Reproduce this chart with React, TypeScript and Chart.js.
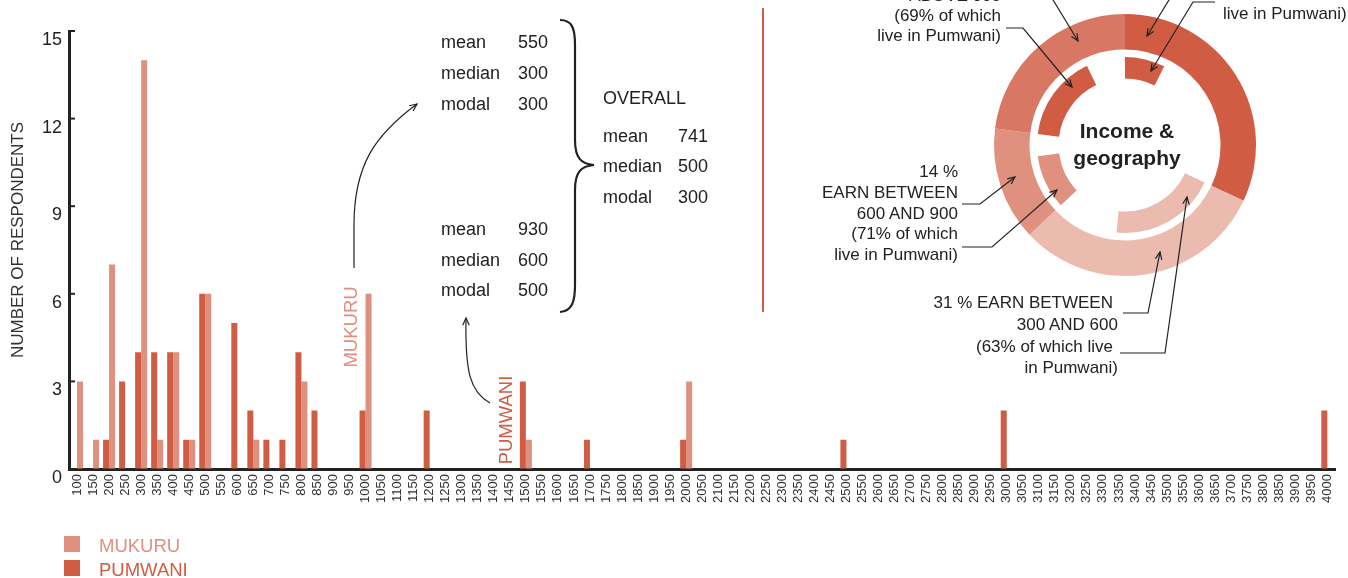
import React, { useEffect, useRef } from "react";
import { Chart, registerables } from "chart.js";

Chart.register(...registerables);

const FONT = '"Liberation Sans", Arial, Helvetica, sans-serif';
const PUM_COLOR = "#d05c44";
const MUK_COLOR = "#e0907f";

// Monthly income categories (x axis)
const incomeLabels = [
  "100", "150", "200", "250", "300", "350", "400", "450", "500", "550",
  "600", "650", "700", "750", "800", "850", "900", "950", "1000", "1050",
  "1100", "1150", "1200", "1250", "1300", "1350", "1400", "1450", "1500", "1550",
  "1600", "1650", "1700", "1750", "1800", "1850", "1900", "1950", "2000", "2050",
  "2100", "2150", "2200", "2250", "2300", "2350", "2400", "2450", "2500", "2550",
  "2600", "2650", "2700", "2750", "2800", "2850", "2900", "2950", "3000", "3050",
  "3100", "3150", "3200", "3250", "3300", "3350", "3400", "3450", "3500", "3550",
  "3600", "3650", "3700", "3750", "3800", "3850", "3900", "3950", "4000",
];

const pumwani = [
  0, 0, 1, 3, 4, 4, 4, 1, 6, 0,
  5, 2, 1, 1, 4, 2, 0, 0, 2, 0,
  0, 0, 2, 0, 0, 0, 0, 0, 3, 0,
  0, 0, 1, 0, 0, 0, 0, 0, 1, 0,
  0, 0, 0, 0, 0, 0, 0, 0, 1, 0,
  0, 0, 0, 0, 0, 0, 0, 0, 2, 0,
  0, 0, 0, 0, 0, 0, 0, 0, 0, 0,
  0, 0, 0, 0, 0, 0, 0, 0, 2,
];

const mukuru = [
  3, 1, 7, 0, 14, 1, 4, 1, 6, 0,
  0, 1, 0, 0, 3, 0, 0, 0, 6, 0,
  0, 0, 0, 0, 0, 0, 0, 0, 1, 0,
  0, 0, 0, 0, 0, 0, 0, 0, 3, 0,
  0, 0, 0, 0, 0, 0, 0, 0, 0, 0,
  0, 0, 0, 0, 0, 0, 0, 0, 0, 0,
  0, 0, 0, 0, 0, 0, 0, 0, 0, 0,
  0, 0, 0, 0, 0, 0, 0, 0, 0,
];

const yTickValues = [0, 3, 6, 9, 12, 15];

// Donut: income bands (share of all respondents) and Pumwani share within each band
const bandNames = ["BELOW 300", "300 AND 600", "600 AND 900", "ABOVE 900"];
const bandShares = [32, 31, 14, 23];
const pumwaniShareInBand = [23, 63, 71, 69];
const bandColors = ["#d05c44", "#ebbbb0", "#e0907f", "#d87864"];
const bandInnerColors = ["#d05c44", "#ebbbb0", "#e0907f", "#d05c44"];

const mukuruStats = [["mean", "550"], ["median", "300"], ["modal", "300"]];
const pumwaniStats = [["mean", "930"], ["median", "600"], ["modal", "500"]];
const overallStats = [["mean", "741"], ["median", "500"], ["modal", "300"]];

function head(px: number, py: number, x: number, y: number, s = 8) {
  const a = Math.atan2(y - py, x - px);
  const a1 = a + Math.PI - 0.42;
  const a2 = a + Math.PI + 0.42;
  return `M${x + s * Math.cos(a1)},${y + s * Math.sin(a1)} L${x},${y} L${x + s * Math.cos(a2)},${y + s * Math.sin(a2)}`;
}

const leaders: number[][][] = [
  [[1047, -10], [1078, 41]],
  [[1006, 28], [1023, 28], [1072, 87]],
  [[1175, -10], [1147, 36]],
  [[1215, 2], [1193, 2], [1151, 71]],
  [[962, 204], [980, 204], [1015, 177]],
  [[962, 247], [992, 247], [1057, 190]],
  [[1123, 313], [1148, 313], [1160, 252]],
  [[1120, 353], [1165, 353], [1187, 197]],
];

const inwardTicks = {
  id: "inwardTicks",
  afterDraw(chart: any) {
    const y = chart.scales.y;
    const { ctx, chartArea } = chart;
    ctx.save();
    ctx.strokeStyle = "#222";
    ctx.lineWidth = 2;
    for (const v of yTickValues) {
      const py = y.getPixelForValue(v);
      ctx.beginPath();
      ctx.moveTo(chartArea.left, py);
      ctx.lineTo(chartArea.left + 6, py);
      ctx.stroke();
    }
    ctx.restore();
  },
};

export default function App() {
  const barRef = useRef<HTMLCanvasElement>(null);
  const donutRef = useRef<HTMLCanvasElement>(null);

  useEffect(() => {
    const bar = new Chart(barRef.current!, {
      type: "bar",
      data: {
        labels: incomeLabels,
        datasets: [
          { label: "PUMWANI", data: pumwani, backgroundColor: PUM_COLOR, borderWidth: 0, categoryPercentage: 0.75, barPercentage: 1 },
          { label: "MUKURU", data: mukuru, backgroundColor: MUK_COLOR, borderWidth: 0, categoryPercentage: 0.75, barPercentage: 1 },
        ],
      },
      options: {
        animation: false,
        responsive: false,
        layout: { padding: { top: 31, right: 12, left: 0, bottom: 0 } },
        plugins: { legend: { display: false }, tooltip: { enabled: false } },
        scales: {
          x: {
            grid: { display: true, drawOnChartArea: false, drawTicks: false, color: "rgba(0,0,0,0)" },
            border: { display: true, color: "#222", width: 3 },
            ticks: { autoSkip: false, maxRotation: 90, minRotation: 90, padding: 5, color: "#333", font: { family: FONT, size: 13 } },
            afterFit: (s: any) => { s.height = 109; },
          },
          y: {
            min: 0,
            max: 15,
            grid: { display: true, drawOnChartArea: false, drawTicks: false, color: "rgba(0,0,0,0)" },
            border: { display: true, color: "#222", width: 3 },
            ticks: { stepSize: 3, padding: 7, labelOffset: 9, color: "#222", font: { family: FONT, size: 18 } },
            afterFit: (s: any) => { s.width = 69; },
          },
        },
      },
      plugins: [inwardTicks],
    });

    const innerData: number[] = [];
    const innerColors: string[] = [];
    bandShares.forEach((s, i) => {
      innerData.push((s * pumwaniShareInBand[i]) / 100, (s * (100 - pumwaniShareInBand[i])) / 100);
      innerColors.push(bandInnerColors[i], "rgba(0,0,0,0)");
    });

    const donut = new Chart(donutRef.current!, {
      type: "doughnut",
      data: {
        labels: bandNames,
        datasets: [
          { data: bandShares, backgroundColor: bandColors, borderWidth: 0, weight: 33 },
          { data: [1], backgroundColor: ["rgba(0,0,0,0)"], borderWidth: 0, weight: 7 },
          { data: innerData, backgroundColor: innerColors, borderWidth: 0, weight: 20 },
        ],
      },
      options: {
        animation: false,
        responsive: false,
        radius: 131,
        cutout: 71,
        plugins: { legend: { display: false }, tooltip: { enabled: false } },
      } as any,
    });

    return () => {
      bar.destroy();
      donut.destroy();
    };
  }, []);

  const txt = { fontFamily: FONT, fill: "#222" } as const;

  return (
    <div style={{ position: "absolute", left: 0, top: 0, width: 1348, height: 578, overflow: "hidden", background: "#fff" }}>
      <canvas ref={barRef} width={1348} height={578} style={{ position: "absolute", left: 0, top: 0 }} />
      <canvas ref={donutRef} width={280} height={280} style={{ position: "absolute", left: 985, top: 5 }} />
      <svg width={1348} height={578} style={{ position: "absolute", left: 0, top: 0, pointerEvents: "none" }}>
        {/* y axis title */}
        <text x={0} y={0} transform="translate(23,240) rotate(-90)" textAnchor="middle" fontSize={17} {...txt} fill="#333">
          NUMBER OF RESPONDENTS
        </text>

        {/* stats */}
        {mukuruStats.map((r, i) => (
          <g key={"m" + i}>
            <text x={441} y={48 + i * 31} fontSize={18} {...txt}>{r[0]}</text>
            <text x={518} y={48 + i * 31} fontSize={18} {...txt}>{r[1]}</text>
          </g>
        ))}
        {pumwaniStats.map((r, i) => (
          <g key={"p" + i}>
            <text x={441} y={235 + i * 30.5} fontSize={18} {...txt}>{r[0]}</text>
            <text x={518} y={235 + i * 30.5} fontSize={18} {...txt}>{r[1]}</text>
          </g>
        ))}
        <text x={603} y={104} fontSize={18} {...txt}>OVERALL</text>
        {overallStats.map((r, i) => (
          <g key={"o" + i}>
            <text x={603} y={141.5 + i * 30.8} fontSize={18} {...txt}>{r[0]}</text>
            <text x={678} y={141.5 + i * 30.8} fontSize={18} {...txt}>{r[1]}</text>
          </g>
        ))}

        {/* brace */}
        <path d="M560,20 C572,20 575,28 575,45 L575,140 C575,158 581,164 594,165 C581,166 575,172 575,190 L575,285 C575,302 572,311 560,312"
          fill="none" stroke="#222" strokeWidth={2.2} />

        {/* arrows from labels */}
        <path d="M354,268 L354,225 C354,165 375,135 417,104" fill="none" stroke="#222" strokeWidth={1.2} />
        <path d={head(375, 135, 417, 104)} fill="none" stroke="#222" strokeWidth={1.2} />
        <path d="M490,403 C470,392 465,372 466,318" fill="none" stroke="#222" strokeWidth={1.2} />
        <path d={head(466, 340, 466, 318)} fill="none" stroke="#222" strokeWidth={1.2} />

        <text x={0} y={0} transform="translate(357,327) rotate(-90)" textAnchor="middle" fontSize={18.5} fontFamily={FONT} fill={MUK_COLOR}>MUKURU</text>
        <text x={0} y={0} transform="translate(512,420) rotate(-90)" textAnchor="middle" fontSize={18.5} fontFamily={FONT} fill={PUM_COLOR}>PUMWANI</text>

        {/* separator */}
        <line x1={763} y1={8} x2={763} y2={312} stroke={PUM_COLOR} strokeWidth={2} />

        {/* donut centre */}
        <text x={1127} y={138} textAnchor="middle" fontSize={21} fontWeight="bold" {...txt}>Income &amp;</text>
        <text x={1127} y={165} textAnchor="middle" fontSize={21} fontWeight="bold" {...txt}>geography</text>

        {/* donut labels */}
        <g fontSize={17} {...txt} textAnchor="end">
          <text x={1001} y={1}>ABOVE 900</text>
          <text x={1001} y={21}>(69% of which</text>
          <text x={1001} y={41}>live in Pumwani)</text>
        </g>
        <g fontSize={17} {...txt} textAnchor="start">
          <text x={1223} y={19}>live in Pumwani)</text>
        </g>
        <g fontSize={17} {...txt} textAnchor="end">
          <text x={958} y={177}>14 %</text>
          <text x={958} y={198}>EARN BETWEEN</text>
          <text x={958} y={218.5}>600 AND 900</text>
          <text x={958} y={239}>(71% of which</text>
          <text x={958} y={260}>live in Pumwani)</text>
        </g>
        <g fontSize={17} {...txt} textAnchor="end">
          <text x={1113} y={308}>31 % EARN BETWEEN</text>
          <text x={1118} y={330}>300 AND 600</text>
          <text x={1113} y={352}>(63% of which live</text>
          <text x={1118} y={373}>in Pumwani)</text>
        </g>

        {leaders.map((pts, i) => {
          const n = pts.length;
          return (
            <g key={"l" + i} fill="none" stroke="#222" strokeWidth={1.2}>
              <polyline points={pts.map((p) => p.join(",")).join(" ")} />
              <path d={head(pts[n - 2][0], pts[n - 2][1], pts[n - 1][0], pts[n - 1][1])} />
            </g>
          );
        })}

        {/* legend */}
        <rect x={64} y={536} width={16} height={16} fill={MUK_COLOR} />
        <rect x={64} y={560} width={16} height={16} fill={PUM_COLOR} />
        <text x={99} y={552} fontSize={18.5} fontFamily={FONT} fill={MUK_COLOR}>MUKURU</text>
        <text x={99} y={576} fontSize={18.5} fontFamily={FONT} fill={PUM_COLOR}>PUMWANI</text>
      </svg>
    </div>
  );
}
